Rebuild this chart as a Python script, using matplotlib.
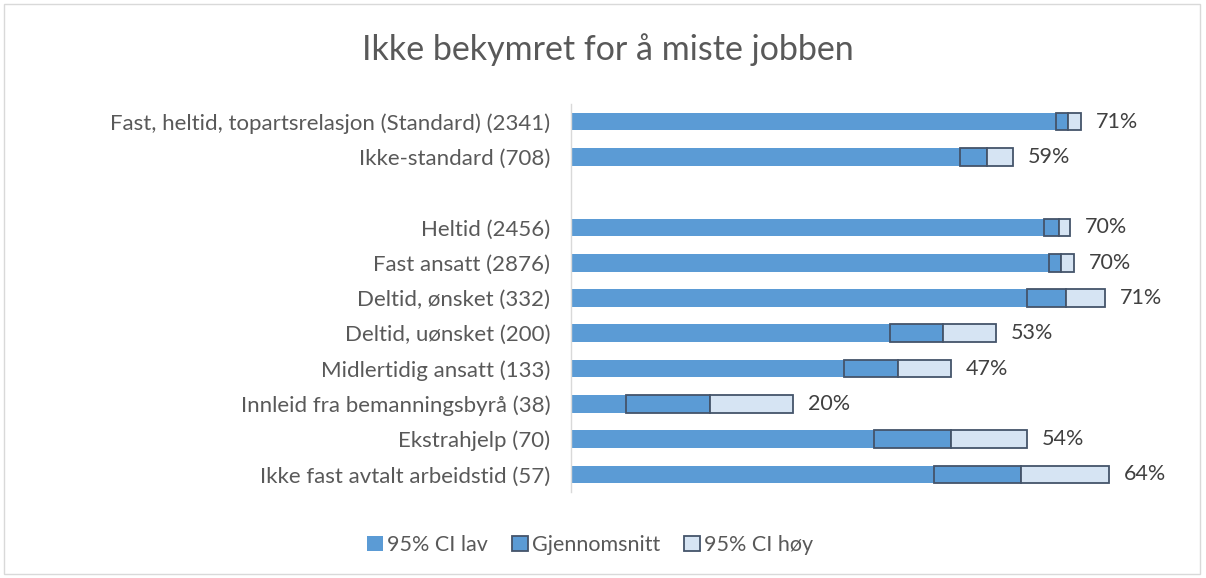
import matplotlib
matplotlib.use("Agg")
import matplotlib.pyplot as plt
from matplotlib.patches import Rectangle
import numpy as np

title = "Ikke bekymret for å miste jobben"
categories = [
    "Fast, heltid, topartsrelasjon (Standard) (2341)",
    "Ikke-standard (708)",
    "Heltid (2456)",
    "Fast ansatt (2876)",
    "Deltid, ønsket (332)",
    "Deltid, uønsket (200)",
    "Midlertidig ansatt (133)",
    "Innleid fra bemanningsbyrå (38)",
    "Ekstrahjelp (70)",
    "Ikke fast avtalt arbeidstid (57)",
]
ci_low = [0.693, 0.556, 0.676, 0.683, 0.651, 0.456, 0.390, 0.079, 0.433, 0.519]
mean = [0.710, 0.594, 0.697, 0.700, 0.707, 0.531, 0.467, 0.199, 0.543, 0.643]
ci_high = [0.729, 0.631, 0.713, 0.719, 0.763, 0.607, 0.543, 0.317, 0.651, 0.769]
series_names = ["95% CI lav", "Gjennomsnitt", "95% CI høy"]

FONT = "Lato"
plt.rcParams["font.family"] = [FONT, "DejaVu Sans"]

W, H = 1206, 578
fig = plt.figure(figsize=(W / 100, H / 100), dpi=100)

# chart border
fig.patches.append(Rectangle((4 / W, 4 / H), (W - 10) / W, (H - 8) / H,
                             transform=fig.transFigure, fill=False,
                             edgecolor="#d9d9d9", linewidth=1.0))

ax_left, ax_right = 571, 1166
ax_top, ax_bot = 104, 492
ax = fig.add_axes([ax_left / W, (H - ax_bot) / H, (ax_right - ax_left) / W, (ax_bot - ax_top) / H])

# positions: a blank row after the first two categories
pos = []
p = 0
for i in range(len(categories)):
    if i == 2:
        p += 1
    pos.append(p)
    p += 1
pos = np.array(pos)

low = np.array(ci_low)
mn = np.array(mean)
hi = np.array(ci_high)

c_low = "#5b9bd5"
c_mean = "#5b9bd5"
c_high = "#d6e4f3"
edge = "#44546a"
bh = 0.5

ax.barh(pos, low, height=bh, color=c_low, edgecolor="none", label=series_names[0])
ax.barh(pos, mn - low, left=low, height=bh, color=c_mean, edgecolor=edge, linewidth=1.3, label=series_names[1])
ax.barh(pos, hi - mn, left=mn, height=bh, color=c_high, edgecolor=edge, linewidth=1.3, label=series_names[2])

for y, m, h in zip(pos, mn, hi):
    ax.annotate(f"{round(m * 100)}%", xy=(h, y), xytext=(15, 0), textcoords="offset pixels",
                va="center", ha="left", fontsize=15.5, color="#404040", annotation_clip=False)

ax.set_xlim(0, (ax_right - ax_left) / 700)
ax.set_ylim(10.5, -0.5)
ax.set_yticks(pos)
ax.set_yticklabels(categories, fontsize=16, color="#595959")
ax.tick_params(axis="y", length=0, pad=15)
ax.set_xticks([])
for s in ["top", "right", "bottom"]:
    ax.spines[s].set_visible(False)
ax.spines["left"].set_color("#d9d9d9")
ax.spines["left"].set_linewidth(1.0)

fig.text(608 / W, 1 - 50 / H, title, ha="center", va="center", fontsize=24.5, color="#595959")

handles, labels = ax.get_legend_handles_labels()
fig.legend(handles, labels, loc="center", bbox_to_anchor=(590 / W, 1 - 545 / H), ncol=3,
           frameon=False, fontsize=15.5, labelcolor="#595959", handlelength=0.75, handleheight=0.75,
           handletextpad=0.2, columnspacing=1.1)

fig.savefig("out.png", dpi=100)
